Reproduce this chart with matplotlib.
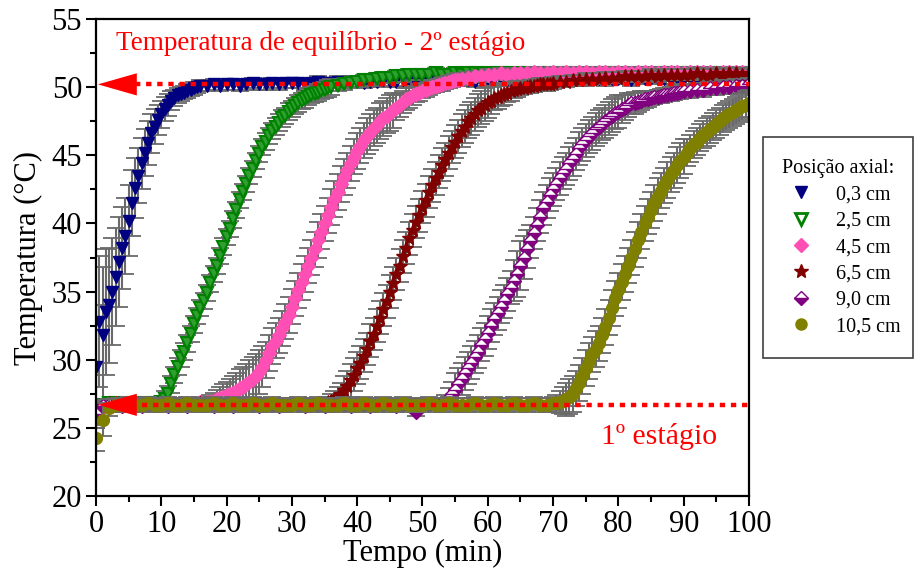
import numpy as np
import matplotlib
matplotlib.use('Agg')
import matplotlib.pyplot as plt
from matplotlib.lines import Line2D
from matplotlib.ticker import MultipleLocator

plt.rcParams['font.family'] = ['Liberation Serif', 'DejaVu Serif']

# tempos de leitura (min): 0,5 min na subida, 1 min nos patamares
t_03 = np.concatenate([np.arange(0, 16.5, 0.5), np.arange(17, 101, 1)])
t_25 = np.concatenate([np.arange(0, 11, 1), np.arange(10.5, 36.5, 0.5), np.arange(37, 101, 1)])
t_45 = np.concatenate([np.arange(0, 18, 1), np.arange(17.5, 56.5, 0.5), np.arange(57, 101, 1)])
t_65 = np.concatenate([np.arange(0, 36, 1), np.arange(35.5, 70.5, 0.5), np.arange(71, 101, 1)])
t_90 = np.concatenate([np.arange(0, 54, 1), np.arange(53.5, 90.5, 0.5), np.arange(91, 101, 1)])
t_105 = np.concatenate([np.arange(0, 71, 1), np.arange(70.5, 100.5, 0.5)])

# 0,3 cm
T_03 = [29.5, 32.8, 31.8, 33.5, 34.0, 35.0, 36.1, 37.2, 38.2, 39.1,
        40.2, 41.5, 42.6, 43.5, 44.4, 45.2, 45.9, 46.6, 47.1, 47.6,
        48.0, 48.4, 48.7, 49.0, 49.2, 49.4, 49.5, 49.6, 49.7, 49.8,
        49.9, 50.0, 50.1,
        50.1, 50.2, 50.1,
        50.2, 50.2, 50.1, 50.2, 50.3, 50.2, 50.2, 50.3, 50.2, 50.3,
        50.3, 50.3, 50.2, 50.3, 50.4, 50.3, 50.3, 50.4, 50.3, 50.4,
        50.4, 50.3, 50.4, 50.4, 50.5, 50.4, 50.4, 50.5, 50.4, 50.5,
        50.5, 50.4, 50.5, 50.5, 50.4, 50.5, 50.5, 50.5, 50.4, 50.5,
        50.5, 50.6, 50.5, 50.5, 50.5, 50.6, 50.5, 50.5, 50.6, 50.5,
        50.6, 50.6, 50.5, 50.6, 50.6, 50.5, 50.6, 50.6, 50.5, 50.6,
        50.6, 50.6, 50.5, 50.6, 50.6, 50.7, 50.6, 50.6, 50.6, 50.7,
        50.6, 50.6, 50.6, 50.7, 50.6, 50.6, 50.7, 50.6, 50.6, 50.7,
        50.6]
E_03 = ([4.5, 4.8, 5.0, 4.6, 4.2, 3.9, 3.6, 3.3, 3.0, 2.8, 2.6, 2.4, 2.2,
         2.0, 1.9, 1.7, 1.6, 1.4, 1.3, 1.1, 1.0, 0.9, 0.8, 0.7, 0.6, 0.55,
         0.5, 0.5, 0.5, 0.45, 0.45, 0.4, 0.4] + [0.4] * 84)

# 2,5 cm
T_25 = [26.3, 26.7, 26.8, 26.8, 26.7, 26.8, 26.8, 26.7, 26.8, 26.8, 26.9,
        27.1, 27.5, 28.2, 28.9, 29.5, 30.1, 30.6, 31.2, 31.9, 32.6,
        33.2, 33.8, 34.3, 34.9, 35.6, 36.3, 36.9, 37.6, 38.3, 39.0,
        39.6, 40.3, 41.0, 41.7, 42.3, 42.9, 43.5, 44.0, 44.6, 45.1,
        45.6, 46.0, 46.4, 46.8, 47.1, 47.4, 47.7, 47.9, 48.2, 48.4,
        48.6, 48.8, 49.0, 49.1, 49.3, 49.4, 49.5, 49.6, 49.7, 49.8,
        49.9, 50.0,
        50.1, 50.2, 50.3,
        50.4, 50.5, 50.5, 50.6, 50.7, 50.7, 50.8, 50.8, 50.9, 50.9,
        50.9, 50.9, 51.0, 50.9, 50.9, 51.0, 50.9, 51.0, 51.0, 50.9,
        51.0, 50.9, 51.0, 51.0, 50.9, 51.0, 51.0, 50.9, 51.0, 51.0,
        50.9, 51.0, 51.0, 51.0, 50.9, 51.0, 51.0, 50.9, 51.0, 51.0,
        51.0, 50.9, 51.0, 51.0, 51.0, 50.9, 51.0, 51.0, 51.0, 50.9,
        51.0, 51.0, 51.0, 50.9, 51.0, 51.0, 51.0, 51.0, 50.9, 51.0,
        51.0]
E_25 = [0.6] + [0.35] * 10 + [0.6] * 52 + [0.4] * 64

# 4,5 cm
T_45 = [25.8, 26.6, 26.7, 26.8, 26.8, 26.7, 26.8, 26.8, 26.7, 26.8,
        26.8, 26.7, 26.8, 26.8, 26.8, 26.8, 26.9, 26.9,
        26.9, 27.0, 27.1, 27.2, 27.3, 27.4, 27.5, 27.6, 27.7, 27.9,
        28.0, 28.2, 28.4, 28.6, 28.8, 29.1, 29.5, 30.0, 30.5, 31.0,
        31.4, 31.8, 32.3, 32.8, 33.3, 33.9, 34.5, 35.1, 35.7, 36.3,
        36.9, 37.5, 38.1, 38.8, 39.4, 40.0, 40.6, 41.2, 41.8, 42.3,
        42.9, 43.4, 43.9, 44.4, 44.9, 45.3, 45.7, 46.1, 46.4, 46.7,
        47.0, 47.2, 47.5, 47.7, 47.9, 48.1, 48.3, 48.5, 48.7, 48.9,
        49.1, 49.2, 49.4, 49.5, 49.6, 49.7, 49.8, 49.9, 50.0, 50.1,
        50.15, 50.2, 50.3, 50.4, 50.45, 50.5, 50.55, 50.6,
        50.7, 50.8, 50.8,
        50.9, 50.9, 51.0, 50.9, 51.0, 51.0, 51.0, 51.1, 51.0, 51.0,
        51.1, 51.0, 51.1, 51.0, 51.1, 51.1, 51.0, 51.1, 51.1, 51.0,
        51.1, 51.1, 51.0, 51.1, 51.1, 51.1, 51.0, 51.1, 51.1, 51.1,
        51.0, 51.1, 51.1, 51.1, 51.1, 51.0, 51.1, 51.1, 51.1, 51.1,
        51.1]
E_45 = ([0.8] + [0.35] * 17
        + [0.5, 0.6, 0.7, 0.8, 0.9, 1.0, 1.1, 1.2, 1.3, 1.4, 1.5, 1.5, 1.6,
           1.6, 1.6, 1.6, 1.5]
        + [1.3] * 40
        + [0.9, 0.9, 0.8, 0.8, 0.7, 0.7, 0.6, 0.6, 0.5, 0.5] + [0.45] * 11
        + [0.4] * 44)

# 6,5 cm
T_65 = [26.2, 26.7, 26.8, 26.8, 26.7, 26.8, 26.7, 26.8, 26.8, 26.7,
        26.8, 26.8, 26.7, 26.8, 26.8, 26.7, 26.8, 26.8, 26.8, 26.7,
        26.8, 26.8, 26.7, 26.8, 26.8, 26.8, 26.7, 26.8, 26.8, 26.7,
        26.8, 26.8, 26.8, 26.7, 26.8, 26.8,
        26.9, 27.0, 27.1, 27.3, 27.5, 27.8, 28.1, 28.5, 28.9, 29.4,
        29.8, 30.3, 30.8, 31.4, 31.9, 32.5, 33.1, 33.7, 34.3, 35.0,
        35.6, 36.3, 36.9, 37.6, 38.2, 38.9, 39.5, 40.1, 40.6, 41.2,
        41.7, 42.3, 42.8, 43.3, 43.8, 44.3, 44.7, 45.2, 45.6, 46.0,
        46.4, 46.8, 47.1, 47.5, 47.7, 48.0, 48.3, 48.5, 48.7, 48.9,
        49.0, 49.2, 49.3, 49.4, 49.5, 49.6, 49.7, 49.8, 49.85, 49.9,
        49.95, 50.0, 50.05, 50.1, 50.15, 50.2, 50.2, 50.2, 50.25, 50.3,
        50.4, 50.4, 50.5, 50.5, 50.6, 50.6, 50.6, 50.7, 50.7,
        50.7, 50.8, 50.8, 50.8, 50.8, 50.9, 50.8, 50.9, 50.9, 50.9,
        50.9, 50.9, 51.0, 50.9, 50.9, 51.0, 50.9, 51.0, 51.0, 50.9,
        51.0]
E_65 = ([0.7] + [0.35] * 35
        + [0.4, 0.5, 0.6, 0.7, 0.8] + [1.0, 1.1] + [1.2] * 43
        + [1.0, 0.9, 0.9, 0.8, 0.8, 0.7, 0.7, 0.6, 0.6, 0.5] + [0.45] * 10
        + [0.4] * 30)

# 9,0 cm
T_90 = [26.0, 26.6, 26.7, 26.7, 26.6, 26.7, 26.7, 26.6, 26.7, 26.7,
        26.7, 26.6, 26.7, 26.7, 26.6, 26.7, 26.7, 26.7, 26.6, 26.7,
        26.7, 26.6, 26.7, 26.7, 26.7, 26.6, 26.7, 26.7, 26.6, 26.7,
        26.7, 26.7, 26.6, 26.7, 26.7, 26.6, 26.7, 26.7, 26.7, 26.6,
        26.7, 26.7, 26.6, 26.7, 26.7, 26.7, 26.6, 26.7, 26.7, 26.2,
        26.7, 26.7, 26.7, 26.8,
        26.9, 27.2, 27.5, 27.8, 28.2, 28.6, 29.0, 29.4, 29.8, 30.2,
        30.6, 31.1, 31.5, 32.0, 32.5, 33.0, 33.4, 33.9, 34.3, 34.8,
        35.3, 35.8, 36.3, 36.9, 37.5, 38.1, 38.7, 39.3, 39.9, 40.5,
        41.1, 41.6, 42.1, 42.5, 42.9, 43.3, 43.7, 44.0, 44.4, 44.7,
        45.1, 45.5, 45.8, 46.1, 46.4, 46.6, 46.9, 47.1, 47.3, 47.5,
        47.7, 47.9, 48.1, 48.2, 48.4, 48.5, 48.7, 48.8, 48.85, 48.9,
        49.0, 49.1, 49.15, 49.2, 49.25, 49.3, 49.35, 49.4, 49.45, 49.5,
        49.55, 49.6, 49.65, 49.7,
        49.7, 49.8, 49.8, 49.9, 49.9, 50.0, 50.0, 50.1, 50.1, 50.2]
E_90 = ([0.8] + [0.35] * 53
        + [0.5, 0.7, 0.9] + [1.2] * 18 + [1.5, 1.7, 1.8, 1.6, 1.4]
        + [1.2] * 28
        + [1.0, 0.9, 0.9, 0.8, 0.8, 0.7, 0.7, 0.6, 0.6] + [0.5] * 11
        + [0.5] * 10)

# 10,5 cm
T_105 = [24.3, 25.6, 26.5, 26.7, 26.7, 26.8, 26.7, 26.7, 26.8, 26.7,
         26.7, 26.8, 26.7, 26.7, 26.8, 26.7, 26.7, 26.7, 26.8, 26.7,
         26.7, 26.8, 26.7, 26.7, 26.8, 26.7, 26.7, 26.8, 26.7, 26.7,
         26.7, 26.8, 26.7, 26.7, 26.8, 26.7, 26.7, 26.7, 26.8, 26.7,
         26.7, 26.8, 26.7, 26.7, 26.8, 26.7, 26.7, 26.8, 26.7, 26.7,
         26.7, 26.8, 26.7, 26.7, 26.8, 26.7, 26.7, 26.7, 26.8, 26.7,
         26.7, 26.8, 26.7, 26.7, 26.8, 26.7, 26.7, 26.8, 26.7, 26.7,
         26.8,
         26.8, 26.9, 27.0, 27.1, 27.3, 27.5, 27.9, 28.3, 28.8, 29.4,
         29.9, 30.4, 30.8, 31.2, 31.8, 32.4, 33.1, 33.8, 34.5, 35.1,
         35.7, 36.3, 36.9, 37.5, 38.1, 38.8, 39.4, 40.0, 40.5, 41.0,
         41.5, 42.0, 42.4, 42.8, 43.2, 43.6, 43.9, 44.3, 44.6, 44.9,
         45.2, 45.5, 45.8, 46.0, 46.3, 46.5, 46.7, 46.9, 47.1, 47.3,
         47.5, 47.7, 47.85, 48.0, 48.15, 48.3, 48.45, 48.6, 48.7, 48.8]
E_105 = ([1.0, 1.2, 0.6] + [0.5] * 68
         + [0.6, 0.8, 1.0, 1.2] + [1.3] * 36 + [1.0] * 20)

labels = ['0,3 cm', '2,5 cm', '4,5 cm', '6,5 cm', '9,0 cm', '10,5 cm']
times = [t_03, t_25, t_45, t_65, t_90, t_105]
temps = [T_03, T_25, T_45, T_65, T_90, T_105]
errs = [E_03, E_25, E_45, E_65, E_90, E_105]

# temperaturas de referencia dos dois estagios
T_eq2 = 50.2
T_eq1 = 26.7

styles = [
    dict(marker='v', color='#000080', mfc='#000080', mec='#000080'),
    dict(marker='v', color='#008000', mfc='#2f9f2f', mec='#008000', mew=1.5),
    dict(marker='D', color='#ff4fb4', mfc='#ff4fb4', mec='#ff4fb4'),
    dict(marker='*', color='#800000', mfc='#800000', mec='#800000'),
    dict(marker='D', color='#800080', mfc='#800080', mec='#800080',
         fillstyle='bottom', markerfacecoloralt='white'),
    dict(marker='o', color='#808000', mfc='#808000', mec='#808000'),
]
leg_styles = list(styles)
leg_styles[1] = dict(marker='v', color='#008000', mfc='white', mec='#008000', mew=2)
sizes = [8.5, 8.5, 7.5, 10.5, 7.5, 8.5]
leg_sizes = [8, 8, 7, 10, 7, 8]

fig = plt.figure(figsize=(9.14, 5.73), dpi=100)
ax = fig.add_axes([0.105, 0.134, 0.7145, 0.833])

handles = []
for tt, T, E, st, lst, ms, lms, lab in zip(times, temps, errs, styles, leg_styles,
                                           sizes, leg_sizes, labels):
    eb = ax.errorbar(tt, T, yerr=E, fmt='none', ecolor='#6a6a6a',
                     elinewidth=1.5, capsize=6.5, capthick=1.3, zorder=2)
    for cap in eb[1]:
        cap.set_color('black')
    ax.plot(tt, T, ls='none', ms=ms, zorder=2, **st)
    handles.append(Line2D([], [], ls='none', ms=lms, label=lab, **lst))

# linhas pontilhadas + setas
for y0, xs in [(T_eq2, 6.0), (T_eq1, 7.0)]:
    ax.plot([xs, 100], [y0, y0], color='red', lw=3.2,
            ls=(0, (1.2, 1.3)), dash_capstyle='butt', zorder=5)
    ax.annotate('', xy=(0.3, y0), xytext=(6.2, y0),
                arrowprops=dict(arrowstyle='-|>,head_length=1.4,head_width=0.4',
                                color='red', lw=0, mutation_scale=20,
                                shrinkA=0, shrinkB=0), zorder=6)

ax.text(3.0, 53.2, 'Temperatura de equilíbrio - 2º estágio', color='red',
        fontsize=19.5, va='center', ha='left')
ax.text(77.3, 24.4, '1º estágio', color='red', fontsize=21.5,
        va='center', ha='left')

ax.set_xlim(0, 100)
ax.set_ylim(20, 55)
ax.xaxis.set_major_locator(MultipleLocator(10))
ax.xaxis.set_minor_locator(MultipleLocator(5))
ax.yaxis.set_major_locator(MultipleLocator(5))
ax.yaxis.set_minor_locator(MultipleLocator(2.5))
ax.tick_params(which='major', direction='out', length=7, width=1.5,
               labelsize=22, pad=3)
ax.tick_params(which='minor', direction='out', length=4, width=1.5)
for sp in ax.spines.values():
    sp.set_linewidth(1.6)

ax.set_xlabel('Tempo (min)', fontsize=22, labelpad=0)
ax.set_ylabel('Temperatura (°C)', fontsize=22, labelpad=6)

leg = fig.legend(handles=handles, title='Posição axial:', loc='upper left',
                 bbox_to_anchor=(763 / 914, 1 - 137 / 573, 150 / 914, 0.0),
                 mode='expand', borderaxespad=0, fontsize=14.5,
                 title_fontsize=14.5, labelspacing=0.36, handletextpad=0.9,
                 borderpad=1.1, handlelength=1.6, fancybox=False,
                 edgecolor='#404040', framealpha=1)
leg.get_frame().set_linewidth(1.2)

fig.savefig('out.png', dpi=100)
